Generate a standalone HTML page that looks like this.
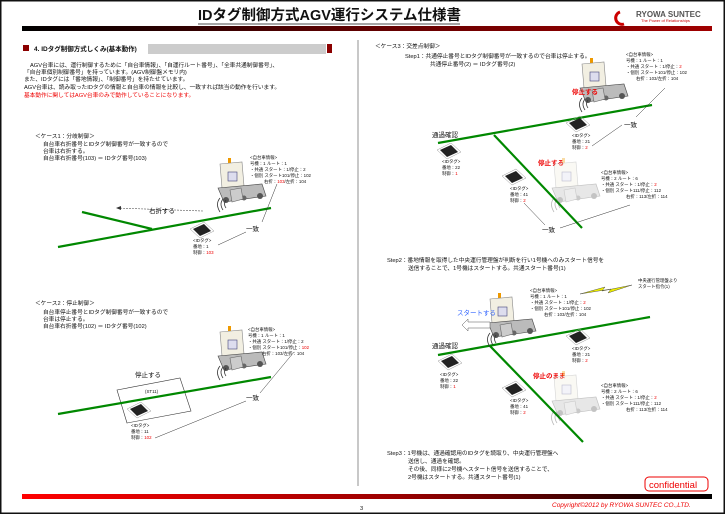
<!DOCTYPE html>
<html><head><meta charset="utf-8"><style>
html,body{margin:0;padding:0;background:#fff}
svg{display:block}
text{font-family:"Liberation Sans","Noto Sans CJK JP",sans-serif;fill:#111}
.s{font-size:5.7px}
.t{font-size:4.4px}
.m{font-size:6.5px}
.r{fill:#e00}
</style></head><body>
<svg width="725" height="514" viewBox="0 0 725 514" xmlns="http://www.w3.org/2000/svg">
<defs>
<linearGradient id="tb" x1="0" x2="1"><stop offset="0" stop-color="#000"/><stop offset="0.45" stop-color="#5a0000"/><stop offset="1" stop-color="#a00000"/></linearGradient>
<linearGradient id="bb" x1="0" x2="1"><stop offset="0" stop-color="#f00"/><stop offset="0.55" stop-color="#900"/><stop offset="1" stop-color="#000"/></linearGradient>
<g id="agv">
<rect x="-22" y="-42" width="3" height="5" fill="#e90"/>
<path d="M-30,-36 L-8,-38 L-6,-14 L-28,-12 Z" fill="#f2efe2" stroke="#888" stroke-width="0.6"/>
<rect x="-22" y="-28" width="9" height="9" fill="#dde" stroke="#447" stroke-width="0.6"/>
<path d="M-32,-12 L12,-16 L16,-4 L-26,2 Z" fill="#bbb" stroke="#444" stroke-width="0.6"/>
<circle cx="-24" cy="0" r="3" fill="#555"/><circle cx="10" cy="-4" r="3" fill="#555"/><circle cx="-6" cy="-2" r="2.5" fill="#666"/>
<path d="M-14,-12 L-3,-14 L-1,-3 L-12,0 Z" fill="#ccc" stroke="#666" stroke-width="0.6" transform="translate(-6,2)"/>
<path d="M-22,2 q-3,4 0,8 M-25,1 q-4,5 0,11 M-28,0 q-5,6 0,14" fill="none" stroke="#333" stroke-width="0.8" transform="translate(-2,-2)"/>
</g>
<g id="chip">
<path d="M-12,-2 L2,-9 L12,0 L-2,7 Z" fill="none" stroke="#999" stroke-width="0.5"/>
<path d="M-9,-2 L2,-7 L9,0 L-2,5 Z" fill="#222"/>
</g>
</defs>
<rect x="0.75" y="0.75" width="723.5" height="512.5" fill="#fff" stroke="#111" stroke-width="1.5"/>
<!-- title -->
<text x="198" y="20" style="font-size:14.5px;font-weight:bold">IDタグ制御方式AGV運行システム仕様書</text>
<line x1="198" y1="24" x2="460" y2="24" stroke="#111" stroke-width="0.8"/>
<rect x="22" y="26" width="690" height="5" fill="url(#tb)"/>
<path d="M620,12 a6,6 0 1 0 4,12" fill="none" stroke="#c00" stroke-width="3"/>
<text x="636" y="17" style="font-size:8px;font-weight:bold;fill:#555">RYOWA SUNTEC</text>
<text x="641" y="22" style="font-size:4px;fill:#c00">The Power of Relationships</text>
<!-- section -->
<rect x="23" y="45" width="6" height="6" fill="#8b0000"/>
<text x="34" y="51" style="font-size:6.5px;font-weight:bold">4. IDタグ制御方式しくみ(基本動作)</text>
<g stroke="#777" stroke-width="0.8"><line x1="148" y1="45" x2="326" y2="45"/><line x1="148" y1="47" x2="326" y2="47"/><line x1="148" y1="49" x2="326" y2="49"/><line x1="148" y1="51" x2="326" y2="51"/><line x1="148" y1="53" x2="326" y2="53"/></g>
<rect x="327" y="44" width="5" height="9" fill="#8b0000"/>
<line x1="358" y1="40" x2="358" y2="486" stroke="#777" stroke-width="0.8"/>
<text class="s" x="30" y="67">AGV台車には、運行制御するために「自台車情報」、「自運行ルート番号」、「全車共通制御番号」、</text>
<text class="s" x="24" y="74">「自台車個別制御番号」を持っています。(AGV制御盤メモリ内)</text>
<text class="s" x="24" y="81">また、IDタグには「番地情報」、「制御番号」を持たせています。</text>
<text class="s" x="24" y="89">AGV台車は、読み取ったIDタグの情報と自台車の情報を比較し、一致すれば該当の動作を行います。</text>
<text class="s r" x="24" y="97">基本動作に関してはAGV台車のみで動作していることになります。</text>
<!-- case1 -->
<text class="s" x="35" y="138">＜ケース1：分岐制御＞</text>
<text class="s" x="43" y="146">自台車右折番号とIDタグ制御番号が一致するので</text>
<text class="s" x="43" y="153">台車は右折する。</text>
<text class="s" x="43" y="160">自台車右折番号(103) ＝ IDタグ番号(103)</text>
<g stroke="#080" stroke-width="2.2"><line x1="58" y1="247" x2="271" y2="208"/><line x1="82" y1="212" x2="152" y2="229"/></g>
<path d="M203,211 L116,208" stroke="#555" stroke-width="0.6" stroke-dasharray="2,1" fill="none"/>
<path d="M116,208 l5,-2 l0,4 z" fill="#333"/>
<text class="m" x="149" y="213">右折する</text>
<use href="#agv" x="250" y="200"/>
<text class="t" x="250" y="159">&lt;自台車情報&gt;</text>
<text class="t" x="250" y="165">号機：1 ルート：1</text>
<text class="t" x="250" y="171">・共通 スタート：1/停止：2</text>
<text class="t" x="250" y="177">・個別 スタート101/停止：102</text>
<text class="t" x="264" y="183">右折：<tspan class="r">103</tspan>/左折：104</text>
<use href="#chip" x="202" y="231"/>
<text class="t" x="193" y="242">&lt;IDタグ&gt;</text>
<text class="t" x="193" y="248">番地：1</text>
<text class="t" x="193" y="254">制御：<tspan class="r">103</tspan></text>
<path d="M277,184 L262,222 M246,232 L218,245" stroke="#333" stroke-width="0.5" fill="none"/>
<text class="m" x="246" y="231">一致</text>
<!-- case2 -->
<text class="s" x="35" y="305">＜ケース2：停止制御＞</text>
<text class="s" x="43" y="314">自台車停止番号とIDタグ制御番号が一致するので</text>
<text class="s" x="43" y="321">台車は停止する。</text>
<text class="s" x="43" y="328">自台車右折番号(102) ＝ IDタグ番号(102)</text>
<path d="M117,390 L180,378 L191,411 L127,423 Z" fill="none" stroke="#333" stroke-width="0.6"/>
<line x1="58" y1="414" x2="271" y2="377" stroke="#080" stroke-width="2.2"/>
<text class="m" x="135" y="377">停止する</text>
<text class="t" x="145" y="393">(ST11)</text>
<use href="#chip" x="139" y="411"/>
<text class="t" x="131" y="427">&lt;IDタグ&gt;</text>
<text class="t" x="131" y="433">番地：11</text>
<text class="t" x="131" y="439">制御：<tspan class="r">102</tspan></text>
<use href="#agv" x="250" y="368"/>
<text class="t" x="248" y="331">&lt;自台車情報&gt;</text>
<text class="t" x="248" y="337">号機：1 ルート：1</text>
<text class="t" x="248" y="343">・共通 スタート：1/停止：2</text>
<text class="t" x="248" y="349">・個別 スタート101/停止：<tspan class="r">102</tspan></text>
<text class="t" x="262" y="355">右折：103/左折：104</text>
<path d="M294,352 L260,393 M246,401 L155,438" stroke="#333" stroke-width="0.5" fill="none"/>
<text class="m" x="246" y="400">一致</text>
<rect x="22" y="494" width="690" height="5" fill="url(#bb)"/>
<text class="s" x="360" y="510">3</text>
<!-- case3 -->
<text class="s" x="375" y="48">＜ケース3：交差点制御＞</text>
<text class="s" x="405" y="58">Step1：共通停止番号とIDタグ制御番号が一致するので台車は停止する。</text>
<text class="s" x="430" y="66">共通停止番号(2) ＝ IDタグ番号(2)</text>
<g stroke="#080" stroke-width="2.2"><line x1="438" y1="143" x2="652" y2="105"/><line x1="494" y1="135" x2="582" y2="228"/></g>
<use href="#agv" x="612" y="100"/>
<text class="t" x="626" y="56">&lt;自台車情報&gt;</text>
<text class="t" x="626" y="62">号機：1 ルート：1</text>
<text class="t" x="626" y="68">・共通 スタート：1/停止：<tspan class="r">2</tspan></text>
<text class="t" x="626" y="74">・個別 スタート101/停止：102</text>
<text class="t" x="636" y="80">右折：103/左折：104</text>
<text class="m r" x="572" y="94" style="font-weight:bold">停止する</text>
<text class="m" x="624" y="127">一致</text>
<use href="#chip" x="578" y="125"/>
<text class="t" x="572" y="137">&lt;IDタグ&gt;</text>
<text class="t" x="572" y="143">番地：21</text>
<text class="t" x="572" y="149">制御：<tspan class="r">2</tspan></text>
<path d="M665,88 L636,117 M622,125 L592,146" stroke="#333" stroke-width="0.5" fill="none"/>
<text class="m" x="432" y="137">通過確認</text>
<use href="#chip" x="449" y="152"/>
<text class="t" x="442" y="163">&lt;IDタグ&gt;</text>
<text class="t" x="442" y="169">番地：22</text>
<text class="t" x="442" y="175">制御：<tspan class="r">1</tspan></text>
<text class="m r" x="538" y="165" style="font-weight:bold">停止する</text>
<g opacity="0.35"><use href="#agv" x="584" y="200"/></g>
<use href="#chip" x="514" y="178"/>
<text class="t" x="510" y="190">&lt;IDタグ&gt;</text>
<text class="t" x="510" y="196">番地：41</text>
<text class="t" x="510" y="202">制御：<tspan class="r">2</tspan></text>
<text class="t" x="601" y="174">&lt;自台車情報&gt;</text>
<text class="t" x="601" y="180">号機：2 ルート：6</text>
<text class="t" x="601" y="186">・共通 スタート：1/停止：<tspan class="r">2</tspan></text>
<text class="t" x="601" y="192">・個別 スタート111/停止：112</text>
<text class="t" x="626" y="198">右折：113/左折：114</text>
<text class="m" x="542" y="232">一致</text>
<path d="M524,203 L545,225 M560,228 L630,205" stroke="#333" stroke-width="0.5" fill="none"/>
<!-- step2 -->
<text class="s" x="387" y="262">Step2：番地情報を取得した中央運行管理盤が判断を行い1号機へのみスタート信号を</text>
<text class="s" x="408" y="270">送信することで、1号機はスタートする。共通スタート番号(1)</text>
<text class="t" x="638" y="282">中央運行管理盤より</text>
<text class="t" x="638" y="288">スタート指令(1)</text>
<path d="M580,294 L605,287 L602,291 L632,285 L608,293 L611,289 Z" fill="#ee0" stroke="#333" stroke-width="0.4"/>
<g stroke="#080" stroke-width="2.2"><line x1="438" y1="355" x2="650" y2="317"/><line x1="490" y1="346" x2="583" y2="442"/></g>
<use href="#agv" x="520" y="335"/>
<text class="t" x="530" y="292">&lt;自台車情報&gt;</text>
<text class="t" x="530" y="298">号機：1 ルート：1</text>
<text class="t" x="530" y="304">・共通 スタート：1/停止：<tspan class="r">2</tspan></text>
<text class="t" x="530" y="310">・個別 スタート101/停止：102</text>
<text class="t" x="544" y="316">右折：103/左折：104</text>
<text class="m" x="457" y="315" style="fill:#36f">スタートする</text>
<path d="M462,325 L468,319 L468,322 L490,322 L490,328 L468,328 L468,331 Z" fill="#fff" stroke="#555" stroke-width="0.5"/>
<text class="m" x="432" y="348">通過確認</text>
<use href="#chip" x="578" y="338"/>
<text class="t" x="572" y="350">&lt;IDタグ&gt;</text>
<text class="t" x="572" y="356">番地：21</text>
<text class="t" x="572" y="362">制御：<tspan class="r">2</tspan></text>
<use href="#chip" x="450" y="363"/>
<text class="t" x="440" y="376">&lt;IDタグ&gt;</text>
<text class="t" x="440" y="382">番地：22</text>
<text class="t" x="440" y="388">制御：<tspan class="r">1</tspan></text>
<text class="m r" x="533" y="378" style="font-weight:bold">停止のまま</text>
<g opacity="0.35"><use href="#agv" x="584" y="413"/></g>
<use href="#chip" x="514" y="390"/>
<text class="t" x="510" y="402">&lt;IDタグ&gt;</text>
<text class="t" x="510" y="408">番地：41</text>
<text class="t" x="510" y="414">制御：<tspan class="r">2</tspan></text>
<text class="t" x="601" y="387">&lt;自台車情報&gt;</text>
<text class="t" x="601" y="393">号機：2 ルート：6</text>
<text class="t" x="601" y="399">・共通 スタート：1/停止：<tspan class="r">2</tspan></text>
<text class="t" x="601" y="405">・個別 スタート111/停止：112</text>
<text class="t" x="626" y="411">右折：113/左折：114</text>
<!-- step3 -->
<text class="s" x="387" y="455">Step3：1号機は、通過確認用のIDタグを読取り、中央運行管理盤へ</text>
<text class="s" x="408" y="463">送信し、通過を確認。</text>
<text class="s" x="408" y="471">その後、同様に2号機へスタート信号を送信することで、</text>
<text class="s" x="408" y="479">2号機はスタートする。共通スタート番号(1)</text>
<rect x="645" y="477" width="63" height="14" rx="4" fill="#fff" stroke="#e00" stroke-width="1"/>
<text x="649" y="488" style="font-size:9.5px;fill:#e00">confidential</text>
<text x="552" y="507" style="font-size:6.5px;font-style:italic;fill:#e00">Copyright©2012  by  RYOWA  SUNTEC CO.,LTD.</text>
</svg>
</body></html>
